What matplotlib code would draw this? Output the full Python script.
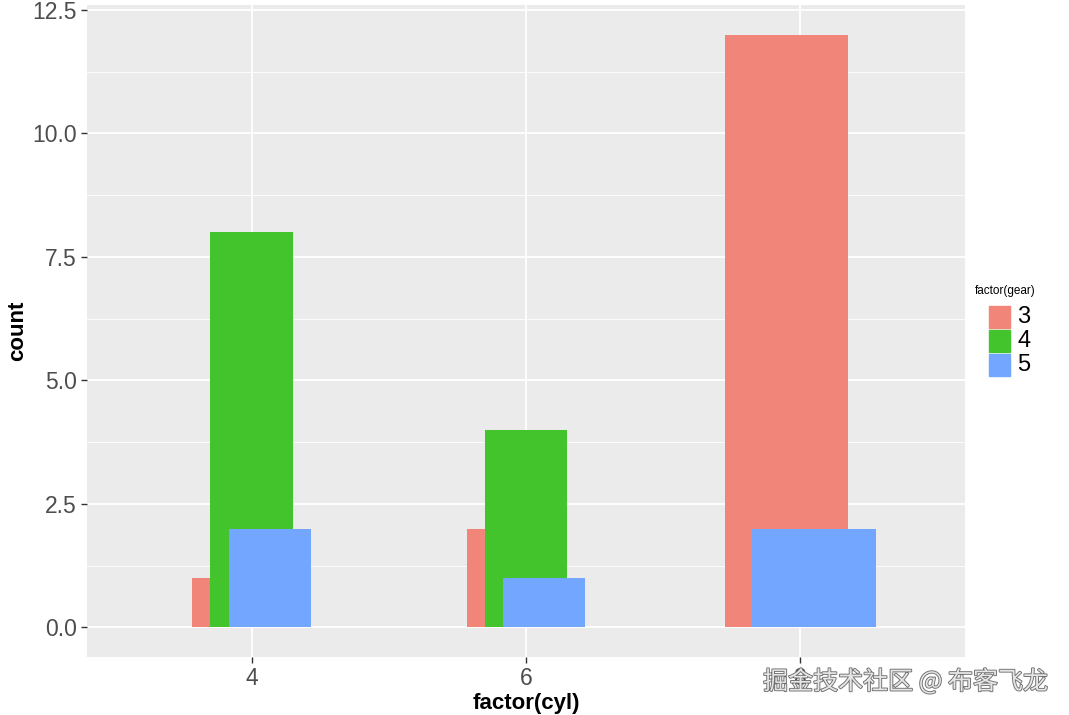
import matplotlib
matplotlib.use('Agg')
import matplotlib.pyplot as plt
import matplotlib.patheffects as pe
import numpy as np

# data
cyl = ['4', '6', '8']
gears = ['3', '4', '5']
counts = {
    '3': [1, 2, 12],
    '4': [8, 4, 0],
    '5': [2, 1, 2],
}
colors = {'3': '#F2857A', '4': '#44C42C', '5': '#73A7FF'}
y_ticks = [0.0, 2.5, 5.0, 7.5, 10.0, 12.5]

plt.rcParams['font.family'] = ['Liberation Sans', 'DejaVu Sans']

fig = plt.figure(figsize=(10.69, 7.15), dpi=100)
ax = fig.add_axes([87 / 1069, 1 - 657 / 715, (965 - 87) / 1069, (657 - 5) / 715])
ax.set_facecolor('#EBEBEB')

# ggplot-like dodge: total bar width 0.9, dodge width 0.2
bar_w = 0.9
dodge_w = 0.2
x = np.arange(1, len(cyl) + 1)
for i in range(len(cyl)):
    present = [g for g in gears if counts[g][i] > 0]
    n = len(present)
    for j, g in enumerate(present):
        off = (j - (n - 1) / 2) * dodge_w / n
        ax.bar(x[i] + off, counts[g][i], width=bar_w / n, color=colors[g],
               zorder=3 + gears.index(g))

ax.set_xlim(0.4, 3.6)
ax.set_ylim(-0.6, 12.6)
ax.set_xticks(x)
ax.set_xticklabels(cyl)
ax.set_yticks(y_ticks)
ax.set_yticklabels([f'{v:.1f}' for v in y_ticks])
ax.set_yticks(np.arange(1.25, 12.6, 2.5), minor=True)

ax.grid(True, which='major', color='white', linewidth=1.3, zorder=1)
ax.grid(True, which='minor', axis='y', color='white', linewidth=0.6, zorder=1)
ax.set_axisbelow(True)
for s in ax.spines.values():
    s.set_visible(False)

ax.tick_params(axis='both', which='major', labelsize=16.5, labelcolor='#4D4D4D',
               color='#333333', length=4, width=1)
ax.tick_params(axis='y', which='minor', length=0)

ax.set_xlabel('factor(cyl)', fontsize=16, fontweight='bold', labelpad=2)
ax.set_ylabel('count', fontsize=16, fontweight='bold', labelpad=3)

# legend
fig.text(975 / 1069, 1 - 291 / 715, 'factor(gear)', fontsize=8.5, va='center', ha='left')
for k, g in enumerate(gears):
    top = 305 + k * 24
    fig.patches.append(plt.Rectangle((989 / 1069, 1 - (top + 23) / 715), 21 / 1069, 22 / 715,
                                     transform=fig.transFigure, color=colors[g], figure=fig))
    fig.text(1017 / 1069, 1 - (top + 12) / 715, g, fontsize=17, va='center', ha='left')

# watermark
fig.text(1048 / 1069, 1 - 682 / 715, '掘金技术社区 @ 布客飞龙', fontsize=18,
         family=['Noto Sans CJK SC', 'DejaVu Sans'], ha='right', va='center',
         color='#E6E6E6',
         path_effects=[pe.withStroke(linewidth=1.3, foreground='#6E6E6E')])

fig.savefig('out.png', dpi=100)
